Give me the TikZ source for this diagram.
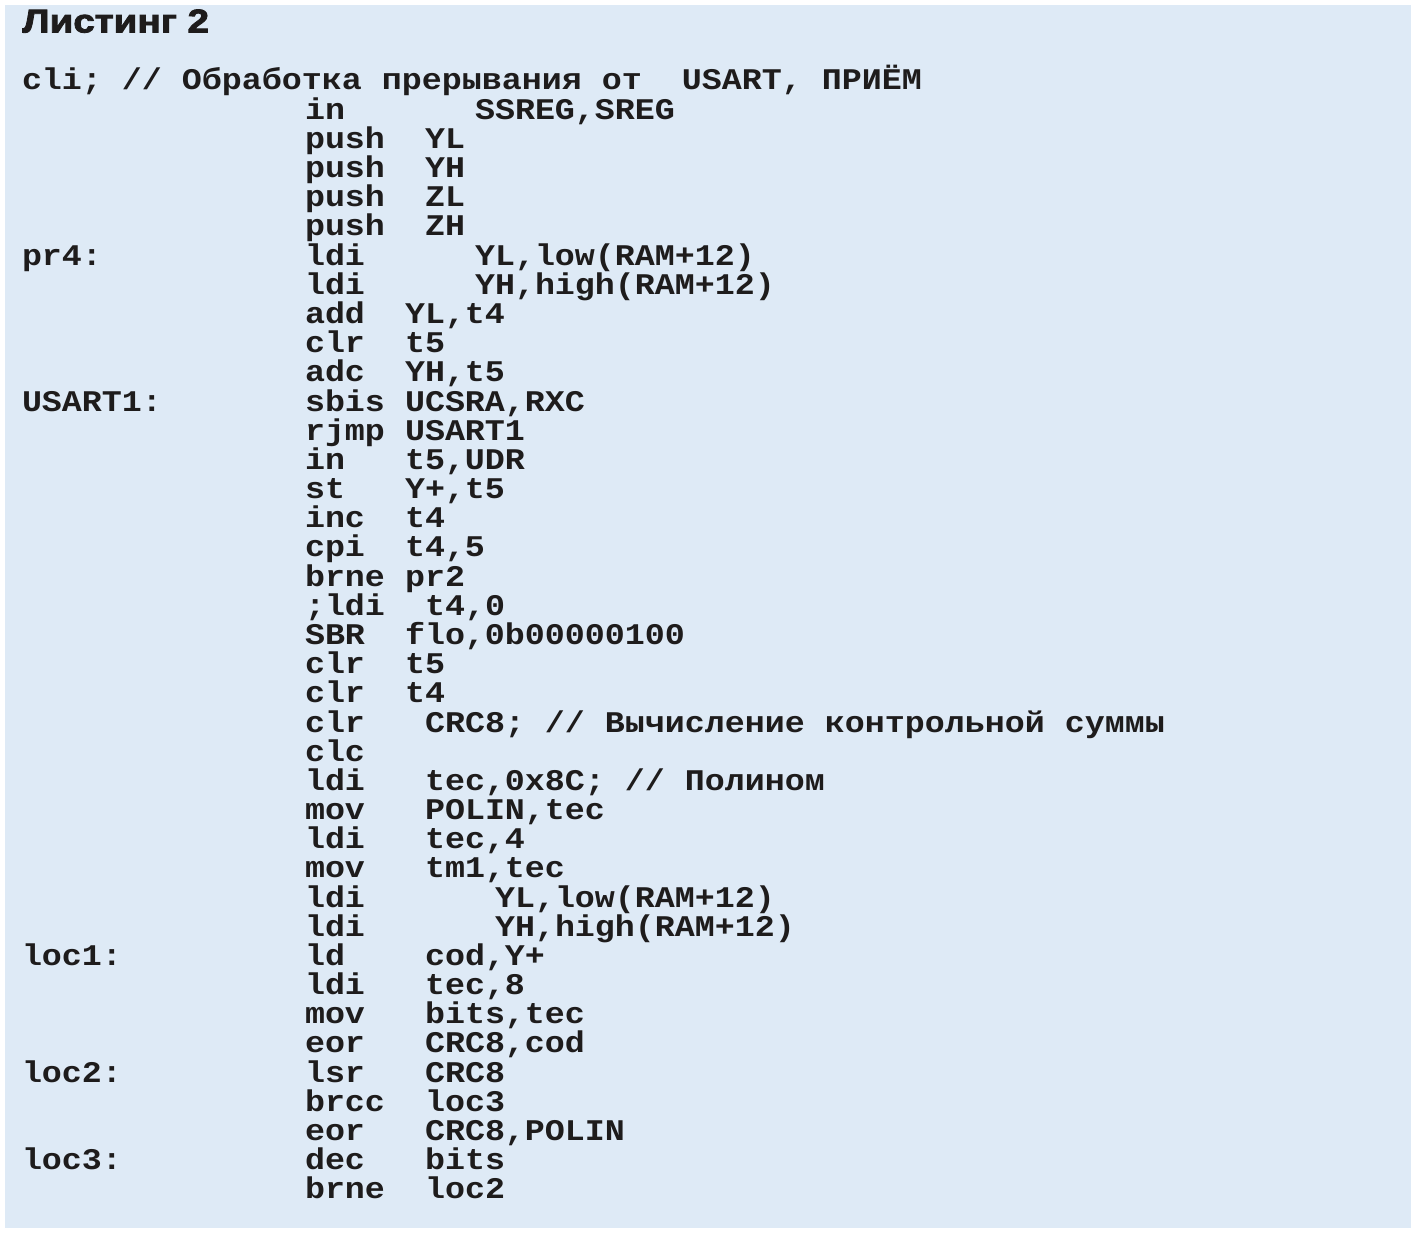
\documentclass[tikz,border=0pt]{standalone}
\usepackage{fontspec}
\setmainfont{Liberation Serif}
\newfontfamily\codefont{Liberation Mono Bold}[FakeStretch=1.111]
\newfontfamily\titlefont{Liberation Sans Bold}[FakeBold=2.6,FakeStretch=1.17]
\definecolor{panelbg}{RGB}{222,234,246}
\definecolor{inkc}{RGB}{30,28,28}
\begin{document}
\begin{tikzpicture}[x=1pt,y=-1pt,
  code/.style={anchor=base west,inner sep=0pt,outer sep=0pt,text=inkc,
    text height=20pt,text depth=6pt,
    font=\codefont\fontsize{30}{31}\selectfont},
  titletxt/.style={anchor=base west,inner sep=0pt,outer sep=0pt,text=inkc,
    font=\titlefont\fontsize{33}{34}\selectfont}]
\useasboundingbox (0,0) rectangle (1415,1233);
\fill[panelbg] (5,5) rectangle (1411,1228);
\node[titletxt] (title) at (22.5,32.5) {Листинг 2};
% line baselines: 90 + (n-1)*29.18
\node[code] (l1) at (22,90.0) {cli; // Обработка прерывания от\ \ USART, ПРИЁМ};
\node[code] (m2) at (305,119.2) {in};        \node[code] (o2) at (475,119.2) {SSREG,SREG};
\node[code] (m3) at (305,148.4) {push};      \node[code] (o3) at (425,148.4) {YL};
\node[code] (m4) at (305,177.5) {push};      \node[code] (o4) at (425,177.5) {YH};
\node[code] (m5) at (305,206.7) {push};      \node[code] (o5) at (425,206.7) {ZL};
\node[code] (m6) at (305,235.9) {push};      \node[code] (o6) at (425,235.9) {ZH};
\node[code] (l7) at (22,265.1) {pr4:};
\node[code] (m7) at (305,265.1) {ldi};       \node[code] (o7) at (475,265.1) {YL,low(RAM+12)};
\node[code] (m8) at (305,294.3) {ldi};       \node[code] (o8) at (475,294.3) {YH,high(RAM+12)};
\node[code] (m9) at (305,323.4) {add};       \node[code] (o9) at (405,323.4) {YL,t4};
\node[code] (m10) at (305,352.6) {clr};      \node[code] (o10) at (405,352.6) {t5};
\node[code] (m11) at (305,381.8) {adc};      \node[code] (o11) at (405,381.8) {YH,t5};
\node[code] (l12) at (22,411.0) {USART1:};
\node[code] (m12) at (305,411.0) {sbis};     \node[code] (o12) at (405,411.0) {UCSRA,RXC};
\node[code] (m13) at (305,440.2) {rjmp};     \node[code] (o13) at (405,440.2) {USART1};
\node[code] (m14) at (305,469.3) {in};       \node[code] (o14) at (405,469.3) {t5,UDR};
\node[code] (m15) at (305,498.5) {st};       \node[code] (o15) at (405,498.5) {Y+,t5};
\node[code] (m16) at (305,527.7) {inc};      \node[code] (o16) at (405,527.7) {t4};
\node[code] (m17) at (305,556.9) {cpi};      \node[code] (o17) at (405,556.9) {t4,5};
\node[code] (m18) at (305,586.1) {brne};     \node[code] (o18) at (405,586.1) {pr2};
\node[code] (m19) at (305,615.2) {;ldi};     \node[code] (o19) at (425,615.2) {t4,0};
\node[code] (m20) at (305,644.4) {SBR};      \node[code] (o20) at (405,644.4) {flo,0b00000100};
\node[code] (m21) at (305,673.6) {clr};      \node[code] (o21) at (405,673.6) {t5};
\node[code] (m22) at (305,702.8) {clr};      \node[code] (o22) at (405,702.8) {t4};
\node[code] (m23) at (305,732.0) {clr};      \node[code] (o23) at (425,732.0) {CRC8; // Вычисление контрольной суммы};
\node[code] (m24) at (305,761.1) {clc};
\node[code] (m25) at (305,790.3) {ldi};      \node[code] (o25) at (425,790.3) {tec,0x8C; // Полином};
\node[code] (m26) at (305,819.5) {mov};      \node[code] (o26) at (425,819.5) {POLIN,tec};
\node[code] (m27) at (305,848.7) {ldi};      \node[code] (o27) at (425,848.7) {tec,4};
\node[code] (m28) at (305,877.9) {mov};      \node[code] (o28) at (425,877.9) {tm1,tec};
\node[code] (m29) at (305,907.0) {ldi};      \node[code] (o29) at (495,907.0) {YL,low(RAM+12)};
\node[code] (m30) at (305,936.2) {ldi};      \node[code] (o30) at (495,936.2) {YH,high(RAM+12)};
\node[code] (l31) at (22,965.4) {loc1:};
\node[code] (m31) at (305,965.4) {ld};       \node[code] (o31) at (425,965.4) {cod,Y+};
\node[code] (m32) at (305,994.6) {ldi};      \node[code] (o32) at (425,994.6) {tec,8};
\node[code] (m33) at (305,1023.8) {mov};     \node[code] (o33) at (425,1023.8) {bits,tec};
\node[code] (m34) at (305,1052.9) {eor};     \node[code] (o34) at (425,1052.9) {CRC8,cod};
\node[code] (l35) at (22,1082.1) {loc2:};
\node[code] (m35) at (305,1082.1) {lsr};     \node[code] (o35) at (425,1082.1) {CRC8};
\node[code] (m36) at (305,1111.3) {brcc};    \node[code] (o36) at (425,1111.3) {loc3};
\node[code] (m37) at (305,1140.5) {eor};     \node[code] (o37) at (425,1140.5) {CRC8,POLIN};
\node[code] (l38) at (22,1169.7) {loc3:};
\node[code] (m38) at (305,1169.7) {dec};     \node[code] (o38) at (425,1169.7) {bits};
\node[code] (m39) at (305,1198.8) {brne};    \node[code] (o39) at (425,1198.8) {loc2};
\end{tikzpicture}
\end{document}
